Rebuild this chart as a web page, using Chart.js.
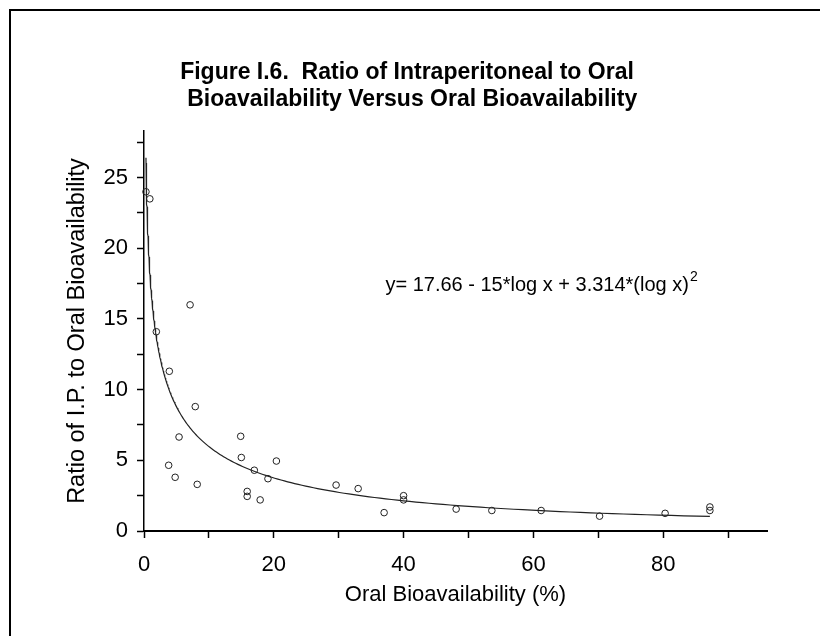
<!DOCTYPE html>
<html>
<head>
<meta charset="utf-8">
<script src="https://cdn.jsdelivr.net/npm/chart.js@4.4.1/dist/chart.umd.min.js"></script>
<style>
  html, body { margin: 0; padding: 0; background: #fff; }
  #wrap { width: 820px; height: 636px; }
</style>
</head>
<body>
<div id="wrap"><canvas id="c" width="820" height="636"></canvas></div>
<script>
// Oral bioavailability (%) and the I.P./oral bioavailability ratio for each compound
const oralBio = [0.3, 0.9, 1.9, 7.1, 3.9, 7.9, 5.4, 3.8, 4.8, 8.2,
                 14.9, 15.0, 17.0, 20.4, 15.9, 15.9, 17.9, 19.1, 29.6, 33.0,
                 37.0, 40.0, 40.0, 48.1, 53.6, 61.2, 70.2, 80.3, 87.2, 87.2];
const ipOralRatio = [24.0, 23.5, 14.1, 16.0, 11.3, 8.8, 6.65, 4.65, 3.8, 3.3,
                     6.7, 5.2, 4.3, 4.95, 2.8, 2.45, 2.2, 3.7, 3.25, 3.0,
                     1.3, 2.5, 2.2, 1.55, 1.45, 1.45, 1.05, 1.25, 1.7, 1.45];

// Quadratic-in-log fit: y = a + b*log x + c*(log x)^2
const fitA = 17.66;
const fitB = -15;
const fitC = 3.314;
const fitXMin = 0.3;
const fitXMax = 87.2;

// Axis ticks (minor ticks unlabeled)
const xTickValues = [0, 10, 20, 30, 40, 50, 60, 70, 80, 90];
const xLabelStep = 20;
const yTickValues = [0, 2.5, 5, 7.5, 10, 12.5, 15, 17.5, 20, 22.5, 25, 27.5];
const yLabelStep = 5;

const titleLines = ['Figure I.6.  Ratio of Intraperitoneal to Oral',
                    ' Bioavailability Versus Oral Bioavailability'];
const xTitle = 'Oral Bioavailability (%)';
const yTitle = 'Ratio of I.P. to Oral Bioavailability';

// Fitted curve sampled on a log-spaced grid
const fitCurve = [];
const nSamples = 240;
for (let i = 0; i <= nSamples; i++) {
  const x = fitXMin * Math.pow(fitXMax / fitXMin, i / nSamples);
  const L = Math.log10(x);
  fitCurve.push({ x: x, y: fitA + fitB * L + fitC * L * L });
}

const points = oralBio.map((x, i) => ({ x: x, y: ipOralRatio[i] }));

const FONT = '"Liberation Sans", Arial, Helvetica, sans-serif';

const figureText = {
  id: 'figureText',
  beforeDraw(chart) {
    const ctx = chart.ctx;
    ctx.save();
    ctx.fillStyle = '#fff';
    ctx.fillRect(0, 0, chart.width, chart.height);
    ctx.strokeStyle = '#000';
    ctx.lineWidth = 2;
    ctx.strokeRect(10, 10, chart.width + 40, chart.height + 40);
    ctx.restore();
  },
  afterDraw(chart) {
    const ctx = chart.ctx;
    ctx.save();
    ctx.fillStyle = '#000';
    ctx.textAlign = 'center';
    ctx.textBaseline = 'middle';
    ctx.font = 'bold 23px ' + FONT;
    ctx.fillText(titleLines[0], 407, 73);
    ctx.fillText(titleLines[1], 409, 100);

    // fit equation with a superscript exponent
    const xs = chart.scales.x, ys = chart.scales.y;
    const ex = xs.getPixelForValue(37.2);
    const ey = ys.getPixelForValue(17.4);
    ctx.textAlign = 'left';
    ctx.font = '20px ' + FONT;
    const main = 'y= ' + fitA + ' - ' + Math.abs(fitB) + '*log x + ' + fitC + '*(log x)';
    ctx.fillText(main, ex, ey);
    const w = ctx.measureText(main).width;
    ctx.font = '14px ' + FONT;
    ctx.fillText('2', ex + w + 1, ey - 8);
    ctx.restore();
  }
};

new Chart(document.getElementById('c'), {
  type: 'scatter',
  data: {
    datasets: [
      {
        type: 'line',
        data: fitCurve,
        borderColor: '#222',
        borderWidth: 1.2,
        pointRadius: 0,
        tension: 0,
        fill: false,
        clip: false
      },
      {
        data: points,
        pointStyle: 'circle',
        pointRadius: 3.3,
        pointBorderWidth: 1,
        pointBorderColor: '#222',
        pointBackgroundColor: 'rgba(255,255,255,0)',
        clip: false
      }
    ]
  },
  options: {
    responsive: false,
    animation: false,
    devicePixelRatio: 1,
    layout: { padding: { top: 131, right: 53, bottom: 0, left: 0 } },
    plugins: { legend: { display: false }, tooltip: { enabled: false }, title: { display: false } },
    scales: {
      x: {
        type: 'linear',
        min: 0,
        max: 96,
        afterFit(s) { s.height = 105; },
        afterBuildTicks(s) { s.ticks = xTickValues.map(v => ({ value: v })); },
        ticks: {
          color: '#000',
          font: { family: FONT, size: 22 },
          padding: 14,
          maxRotation: 0,
          autoSkip: false,
          callback: v => (v % xLabelStep === 0 ? String(v) : '')
        },
        grid: { drawOnChartArea: false, drawTicks: true, tickLength: 7, tickColor: '#000', tickWidth: 1.5 },
        border: { display: true, color: '#000', width: 2 },
        title: {
          display: true,
          text: xTitle,
          color: '#000',
          font: { family: FONT, size: 22 },
          padding: { top: 0, bottom: 28 }
        }
      },
      y: {
        type: 'linear',
        min: 0,
        max: 28.3,
        afterFit(s) { s.width = 144; },
        afterBuildTicks(s) { s.ticks = yTickValues.map(v => ({ value: v })); },
        ticks: {
          color: '#000',
          font: { family: FONT, size: 22 },
          padding: 9,
          autoSkip: false,
          callback: v => (v % yLabelStep === 0 ? String(v) : '')
        },
        grid: { drawOnChartArea: false, drawTicks: true, tickLength: 7, tickColor: '#000', tickWidth: 1.5 },
        border: { display: true, color: '#000', width: 1.5 },
        title: {
          display: true,
          text: yTitle,
          color: '#000',
          font: { family: FONT, size: 23.5 },
          padding: { top: 63, bottom: 0 }
        }
      }
    }
  },
  plugins: [figureText]
});
</script>
</body>
</html>
